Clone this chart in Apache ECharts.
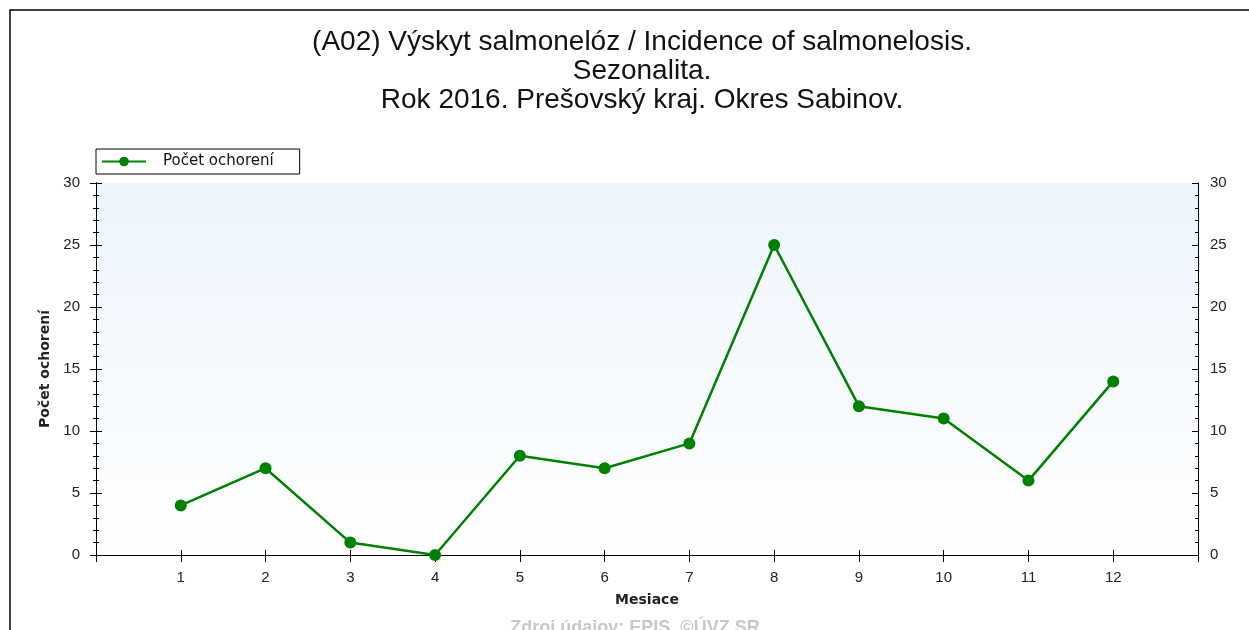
<!DOCTYPE html>
<html>
<head>
<meta charset="utf-8">
<script src="https://cdn.jsdelivr.net/npm/echarts@6/dist/echarts.min.js"></script>
<style>
  html, body { margin: 0; padding: 0; background: #fff; }
  #main { width: 1249px; height: 630px; }
</style>
</head>
<body>
<div id="main"></div>
<script>
// data
var months = [1, 2, 3, 4, 5, 6, 7, 8, 9, 10, 11, 12];
var cases = [4, 7, 1, 0, 8, 7, 9, 25, 12, 11, 6, 14];
var titleLines = [
    '(A02) Výskyt salmonelóz / Incidence of salmonelosis.',
    'Sezonalita.',
    'Rok 2016. Prešovský kraj. Okres Sabinov.'
];
var seriesName = 'Počet ochorení';

var myChart = echarts.init(document.getElementById('main'));

var font = 'Liberation Sans, Arial, sans-serif';
var wide = 'DejaVu Sans, Verdana, sans-serif';
var axisLine = { show: true, lineStyle: { color: '#000', width: 1 } };

// x axis helper: min 0 / max 13 leaves empty space on both sides
function xAx(pos, inside, len, labels) {
    return {
        type: 'value', position: pos, min: 0, max: 13, interval: 1,
        axisLine: axisLine,
        axisTick: { show: true, inside: inside, length: len, lineStyle: { color: '#000' } },
        axisLabel: {
            show: labels, color: '#222', fontFamily: font, fontSize: 15, margin: 15,
            formatter: function (v) { return (v >= 1 && v <= 12) ? String(v) : ''; }
        },
        splitLine: { show: false }
    };
}
function yAx(pos, inside, labels, margin) {
    return {
        type: 'value', position: pos, min: 0, max: 30, interval: 5,
        axisLine: axisLine,
        axisTick: { show: true, inside: inside, length: 6, lineStyle: { color: '#000' } },
        minorTick: { show: true, splitNumber: 5, length: 3, lineStyle: { color: '#000' } },
        axisLabel: { show: labels, color: '#222', fontFamily: font, fontSize: 15, margin: margin },
        splitLine: { show: false }
    };
}

var xAxes = [xAx('bottom', false, 7, true), xAx('bottom', true, 5, false), xAx('top', true, 6, false)];
xAxes[0].name = 'Mesiace';
xAxes[0].nameLocation = 'middle';
xAxes[0].nameGap = 38;
xAxes[0].nameTextStyle = { color: '#222', fontFamily: wide, fontSize: 14, fontWeight: 'bold' };

var yAxes = [yAx('left', false, true, 16), yAx('left', true, false, 0),
             yAx('right', false, true, 12), yAx('right', true, false, 0)];
yAxes[0].name = 'Počet ochorení';
yAxes[0].nameLocation = 'middle';
yAxes[0].nameGap = 37;
yAxes[0].nameTextStyle = { color: '#222', fontFamily: wide, fontSize: 14, fontWeight: 'bold' };

var graphics = [{
    type: 'rect', shape: { x: 10, y: 10, width: 1400, height: 800 },
    style: { fill: null, stroke: '#000', lineWidth: 1.5 }, silent: true, z: -1
}];
titleLines.forEach(function (t, i) {
    graphics.push({
        type: 'text', x: 642, y: 42 + i * 29,
        style: { text: t, textAlign: 'center', textVerticalAlign: 'middle',
                 font: '28px ' + font, fill: '#111' }
    });
});
graphics.push({
    type: 'text', x: 635, y: 619,
    style: { text: 'Zdroj údajov: EPIS, ©ÚVZ SR', textAlign: 'center', textVerticalAlign: 'top',
             font: 'bold 18px ' + font, fill: '#c8c8c8' }
});

myChart.setOption({
    animation: false,
    backgroundColor: '#fff',
    grid: {
        left: 96, right: 51, top: 183, bottom: 75, show: true, borderWidth: 0,
        backgroundColor: new echarts.graphic.LinearGradient(0, 0, 0, 1, [
            { offset: 0, color: '#edf5fd' },
            { offset: 1, color: '#ffffff' }
        ])
    },
    legend: {
        left: 96, top: 149, padding: [5, 26, 5, 5],
        borderColor: '#000', borderWidth: 1, borderRadius: 0,
        itemWidth: 44, itemHeight: 12, itemGap: 0,
        textStyle: { color: '#111', fontFamily: wide, fontSize: 15, padding: [0, 0, 0, 12] },
        data: [seriesName]
    },
    graphic: graphics,
    xAxis: xAxes,
    yAxis: yAxes,
    series: [{
        name: seriesName,
        type: 'line',
        xAxisIndex: 0,
        yAxisIndex: 0,
        data: months.map(function (m, i) { return [m, cases[i]]; }),
        symbol: 'circle',
        symbolSize: 12,
        lineStyle: { color: '#008000', width: 2.5 },
        itemStyle: { color: '#008000' }
    }]
});
</script>
</body>
</html>
